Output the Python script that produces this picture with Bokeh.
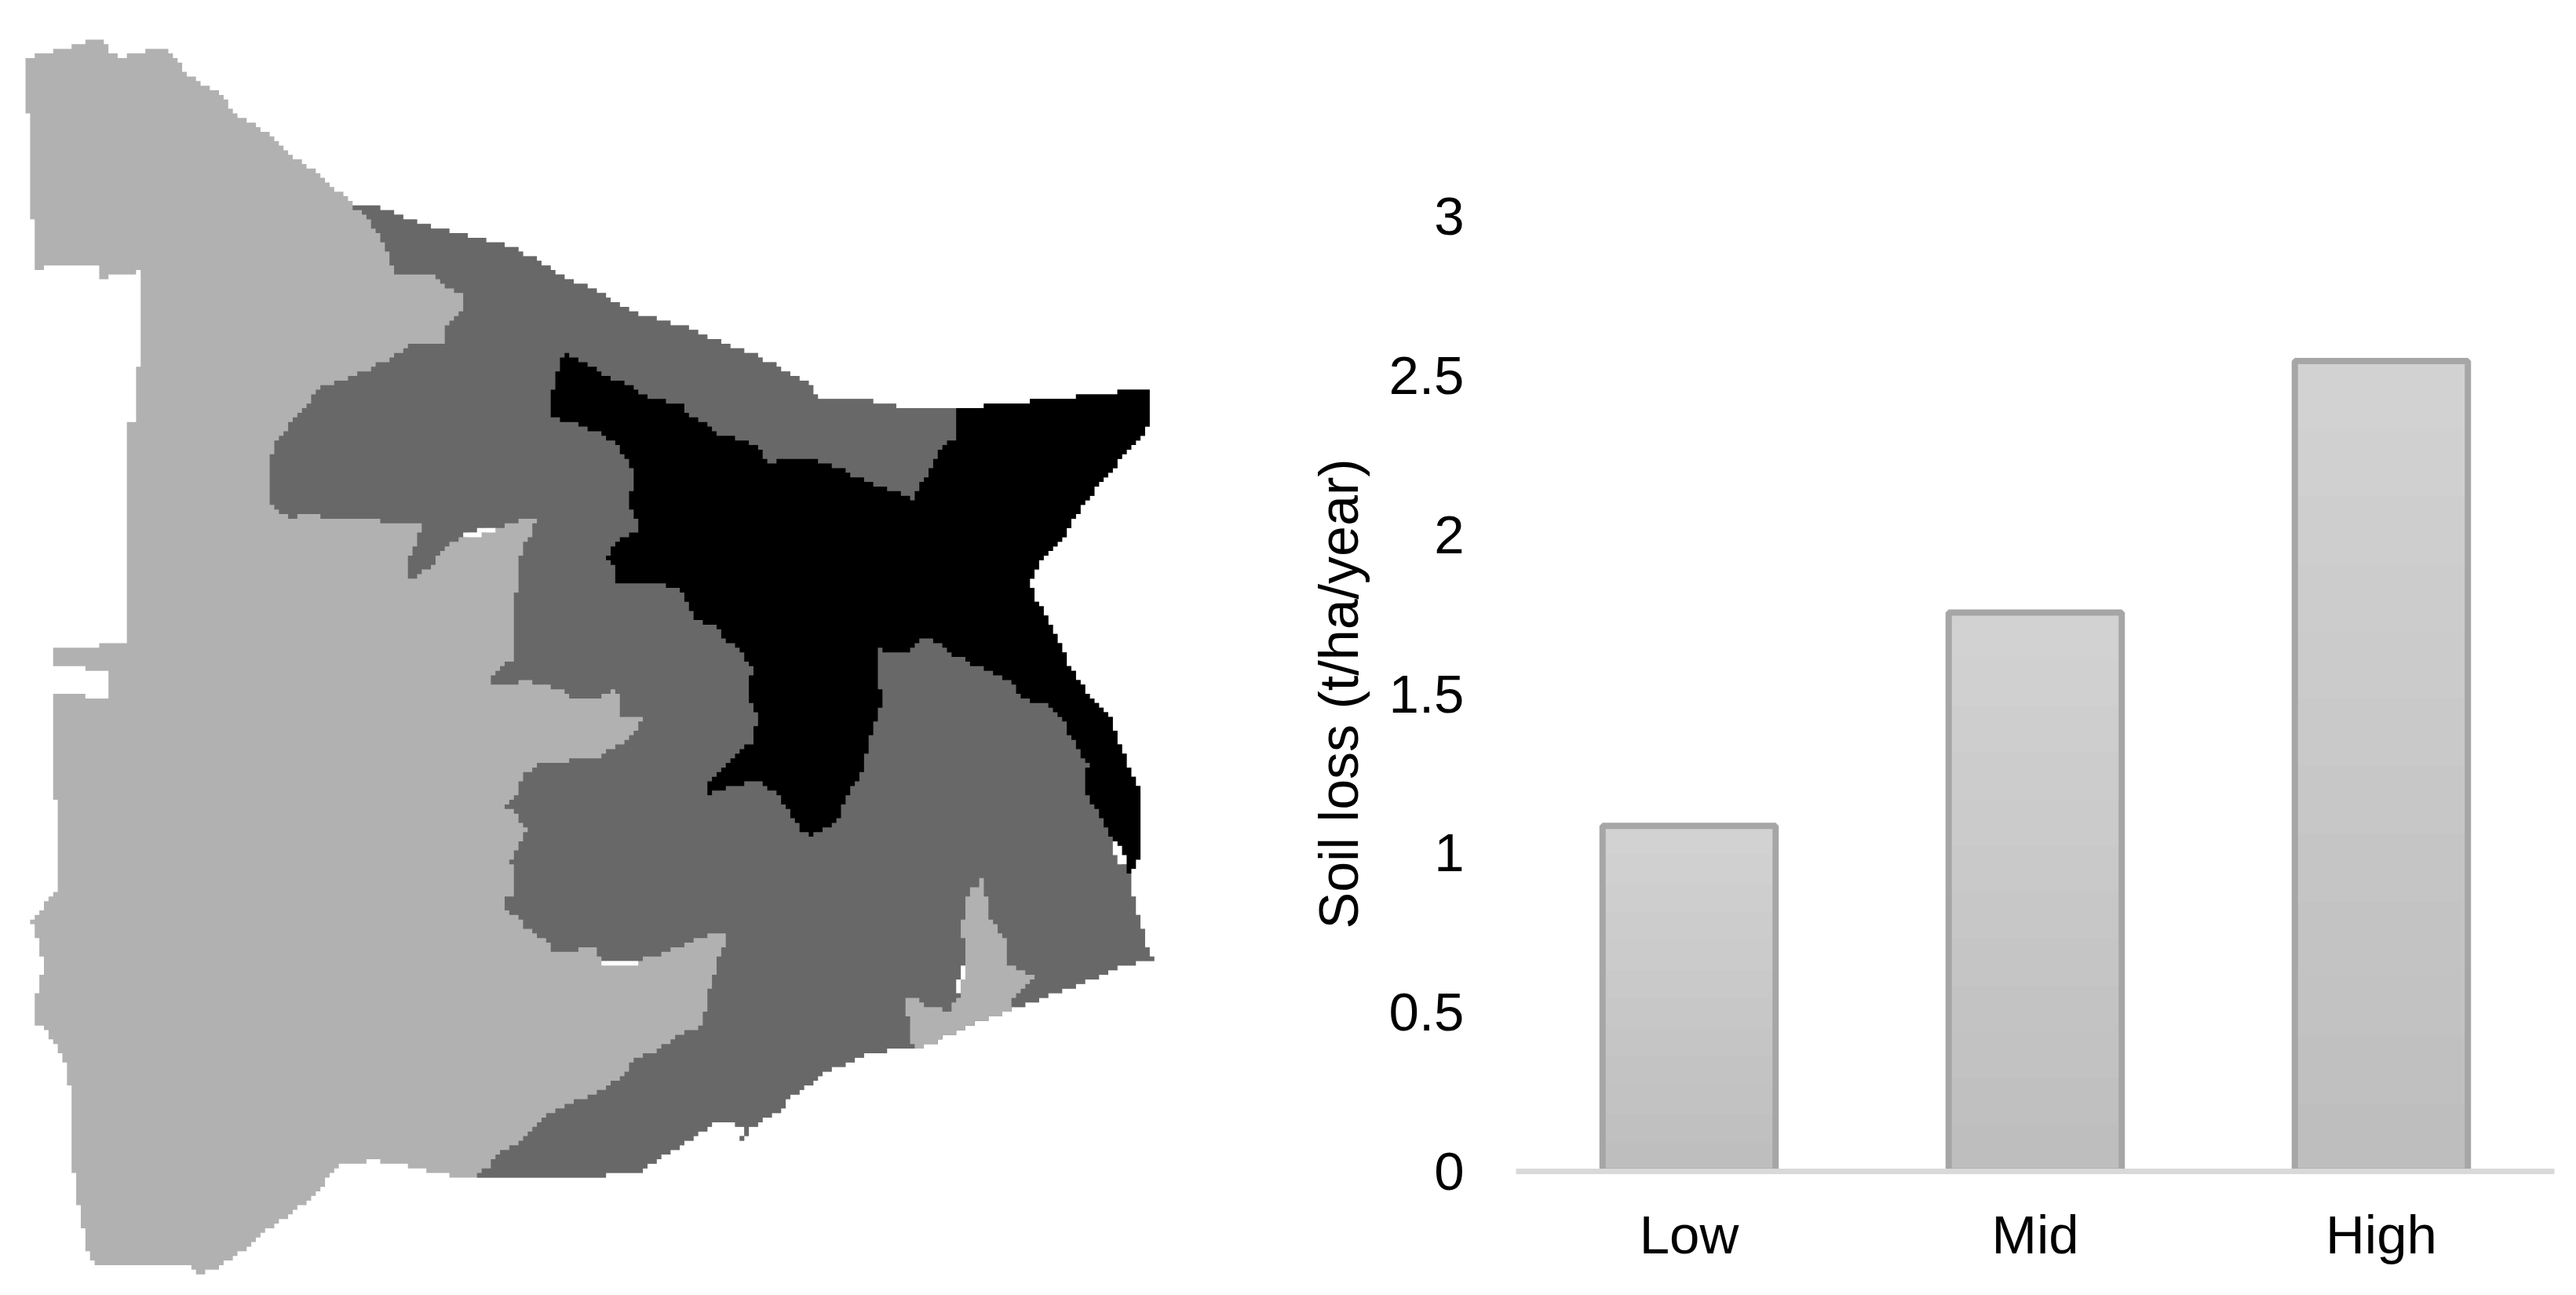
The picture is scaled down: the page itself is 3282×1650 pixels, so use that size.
from bokeh.plotting import figure
from bokeh.models import Range1d, FactorRange, FixedTicker
from bokeh.embed import file_html
from bokeh.resources import INLINE

# ---- bar chart values ----
categories = ["Low", "Mid", "High"]
soil_loss = [1.085, 1.755, 2.545]
y_ticks = [0, 0.5, 1, 1.5, 2, 2.5, 3]
y_tick_labels = ["0", "0.5", "1", "1.5", "2", "2.5", "3"]
y_title = "Soil loss (t/ha/year)"

# ---- map region outlines (map units) ----
outline_top = [(32,74),(49,67),(73,62),(94,55),(117,50),(135,55),(140,67),(153,74),(164,67),(194,62),(206,62),(219,74),
    (237,96),(250,103),(265,116),(280,121),(304,150),(321,154),(344,171),(362,189),(383,208),(400,218),(418,237),(436,247),(449,259)]
outline_upper_right = [(472,259),(489,266),(520,277),(556,289),(610,304),(651,316),(684,333),(719,353),(755,368),(790,392),
    (816,400),(863,416),(904,434),(953,450),(991,466),(1027,489),(1044,507),(1097,507),(1153,518),(1218,519)]
outline_black_side = [(1274,513),(1333,507),(1391,502),(1448,496),(1465,496),(1465,531),(1460,554),(1437,576),(1418,599),
    (1402,622),(1373,658),(1351,687),(1328,716),(1310,741),(1315,758),(1328,784),(1345,813),(1357,842),(1368,866),(1386,889),
    (1417,918),(1424,945),(1437,971),(1447,1000),(1454,1000),(1454,1084),(1447,1108),(1440,1113)]
outline_lower_right = [(1438,1115),(1443,1132),(1448,1157),(1454,1174),(1460,1195),(1466,1219),(1472,1224),(1436,1230),
    (1392,1249),(1345,1267),(1298,1284),(1255,1300),(1213,1319),(1188,1332),(1159,1335),(1106,1340),(1086,1352),(1054,1365),
    (1037,1381),(1014,1394),(996,1415),(979,1425),(956,1439),(946,1452),(941,1458),(941,1448),(946,1446),(946,1434),(934,1428),
    (916,1428),(905,1435),(887,1446),(869,1458),(851,1470),(833,1481),(817,1495),(773,1496),(770,1501),(605,1501)]
outline_rest = [(587,1501),(561,1495),(538,1489),(515,1483),(500,1482),(477,1476),(459,1482),(441,1484),(423,1489),(412,1512),
    (395,1530),(378,1541),(357,1559),(337,1572),(311,1591),(291,1604),(281,1620),(255,1625),(244,1614),(122,1613),(117,1601),
    (111,1583),(105,1549),(99,1525),(93,1463),(88,1399),(82,1363),(77,1340),(66,1325),(55,1309),(43,1301),(43,1278),(49,1254),
    (55,1230),(49,1207),(43,1183),(38,1172),(49,1157),(61,1139),(73,1133),(73,1017),(67,1017),(67,886),(106,886),(106,891),
    (135,891),(135,855),(111,855),(111,849),(67,849),(67,825),(123,825),(123,820),(164,820),(164,537),(170,537),(170,466),
    (176,466),(176,345),(170,350),(140,350),(140,357),(123,357),(123,339),(55,339),(55,345),(43,345),(43,276),(38,276),(38,144),(32,144)]

dark_light_border = [(605,1495),(622,1484),(633,1472),(658,1453),(684,1431),(696,1418),(735,1403),(765,1387),(800,1361),(809,1350),(827,1340),(845,1330),
    (862,1319),(894,1307),(899,1273),(905,1249),(912,1230),(917,1207),(923,1205),(923,1189),(912,1189),(894,1195),(865,1207),
    (835,1219),(811,1226),(765,1225),(760,1207),(737,1207),(735,1212),(708,1212),(694,1196),(673,1180),(663,1164),(645,1157),
    (645,1144),(657,1135),(652,1130),(652,1099),(645,1099),(658,1080),(666,1062),(671,1058),(663,1038),(645,1025),(658,1007),
    (666,983),(689,972),(754,968),(779,955),(797,945),(805,929),(816,913),(791,911),(791,887),(784,879),(766,889),(738,889),
    (713,878),(694,872),(666,867),(658,873),(622,873),(622,862),(638,849),(652,836),(652,789),(658,711),(666,695),(679,674),
    (684,658),(672,658),(638,674),(610,679),(575,687),(559,705),(546,724),(528,734),(521,739),(521,705),(528,703),(533,684),
    (539,664),(528,664),(528,669),(495,669),(482,658),(464,658),(441,663),(423,658),(395,652),(372,658),(357,647),(344,639),
    (344,589),(351,561),(362,550),(370,532),(383,518),(400,497),(407,489),(431,484),(459,474),(482,461),(510,450),(521,439),
    (564,437),(569,416),(575,405),(592,392),(592,375),(580,368),(569,361),(556,352),(500,350),(495,326),(488,316),(482,300),
    (472,279),(459,266)]

black_upper_edge = [(720,448),(726,455),(754,468),(779,482),(802,492),(822,508),(863,513),(876,529),(894,539),(912,554),(945,561),
    (968,574),(980,588),(996,584),(1032,584),(1067,597),(1098,611),(1136,624),(1162,639),(1169,616),(1182,600),(1194,574),(1218,554),(1218,519)]
black_lower_edge = [(1432,1108),(1424,1079),(1412,1053),(1396,1024),(1381,1005),(1381,982),(1386,974),(1373,947),(1351,913),(1338,894),
    (1302,892),(1292,874),(1279,862),(1246,847),(1213,832),(1187,816),(1177,816),(1159,832),(1136,832),(1117,826),(1117,879),
    (1123,879),(1123,894),(1117,911),(1112,929),(1107,947),(1103,976),(1097,995),(1080,1005),(1073,1034),(1066,1050),(1049,1061),
    (1034,1068),(1021,1055),(1009,1032),(991,1005),(963,995),(940,1000),(917,1005),(899,1011),(899,1000),(906,989),(917,976),
    (945,947),(960,945),(960,932),(966,916),(960,897),(953,889),(953,866),(958,855),(945,832),(937,820),(924,813),(912,797),
    (881,789),(876,768),(863,750),(840,742),(802,741),(784,742),(784,724),(779,711),(772,708),(784,692),(810,671),(810,658),
    (802,645),(802,624),(808,621),(808,597),(796,579),(784,558),(761,547),(731,536),(700,531),(702,503),(708,487),(713,461)]

island = [(1248,1116),(1253,1116),(1256,1174),(1268,1180),(1274,1195),(1280,1195),(1280,1230),(1298,1237),(1316,1249),(1304,1259),
    (1287,1278),(1291,1290),(1255,1300),(1213,1319),(1188,1332),(1171,1334),(1159,1323),(1159,1294),(1153,1294),(1153,1271),
    (1164,1271),(1177,1284),(1195,1284),(1206,1294),(1213,1284),(1222,1261),(1229,1232),(1229,1195),(1224,1190),(1229,1151),
    (1235,1132),(1248,1126)]

slivers = [
    [(592,684),(628,678),(628,672),(592,678)],
    [(766,1225),(812,1225),(812,1231),(766,1231)],
    [(1418,1074),(1424,1074),(1432,1103),(1426,1103)],
    [(1222,1232),(1229,1232),(1222,1265),(1216,1265)],
]

LIGHT, DARK, BLACK = "#B1B1B1", "#686868", "#000000"
CELL = 5.87
X0, Y0 = 32.0, 50.0


def raster_edge(points):
    """Turn an outline into the stair-stepped edge of the raster map."""
    cells = [(round((x - X0) / CELL), round((y - Y0) / CELL)) for x, y in points]
    out = [cells[0]]
    for (a, b), (c, d) in zip(cells, cells[1:] + cells[:1]):
        n = max(abs(c - a), abs(d - b))
        px, py = a, b
        for i in range(1, n + 1):
            qx = a + round((c - a) * i / n)
            qy = b + round((d - b) * i / n)
            if qx != px:
                out.append((qx, py))
            if qy != py:
                out.append((qx, qy))
            px, py = qx, qy
    return [X0 + u * CELL for u, _ in out], [Y0 + v * CELL for _, v in out]


# ---- map panel ----
m = figure(width=1640, height=1640, output_backend="svg", toolbar_location=None,
           x_range=Range1d(0, 1640), y_range=Range1d(1640, 0),
           min_border=0, min_border_left=0, min_border_right=0, min_border_top=0, min_border_bottom=0)
m.axis.visible = False
m.grid.visible = False
m.outline_line_color = None
m.styles = {"position": "absolute", "left": "0px", "top": "0px"}

whole = outline_top + outline_upper_right + outline_black_side + outline_lower_right + outline_rest
dark = outline_top[-1:] + outline_upper_right + outline_black_side + outline_lower_right + dark_light_border
black = black_upper_edge + outline_black_side + black_lower_edge

for pts, col in [(whole, LIGHT), (dark, DARK), (black, BLACK), (island, LIGHT)]:
    xs, ys = raster_edge(pts)
    m.patch(xs, ys, fill_color=col, line_color=None)
for pts in slivers:
    xs, ys = raster_edge(pts)
    m.patch(xs, ys, fill_color="#FFFFFF", line_color=None)

# ---- bar panel ----
p = figure(width=1640, height=1640, output_backend="svg", toolbar_location=None,
           x_range=FactorRange(factors=categories, range_padding=0),
           y_range=Range1d(0, 3),
           min_border_left=291, min_border_right=26, min_border_top=275, min_border_bottom=148)
p.grid.visible = False
p.outline_line_color = None
p.styles = {"position": "absolute", "left": "1640px", "top": "0px"}

shades = ["#D2D2D2", "#D0D0D0", "#CECECE", "#CCCCCC", "#CBCBCB", "#C9C9C9",
          "#C7C7C7", "#C5C5C5", "#C3C3C3", "#C2C2C2", "#C0C0C0", "#BEBEBE"]
for i, shade in enumerate(shades):
    frac = 1 - i / len(shades)
    p.vbar(x=categories, top=[v * frac for v in soil_loss], width=0.5,
           fill_color=shade, line_color=None)
p.vbar(x=categories, top=soil_loss, width=0.5, fill_color=None,
       line_color="#A6A6A6", line_width=8)

FONT = "Liberation Sans"
FS = "69px"
xa = p.xaxis[0]
xa.axis_line_color = "#D9D9D9"
xa.axis_line_width = 7
xa.major_tick_line_color = None
xa.minor_tick_line_color = None
xa.major_label_text_font = FONT
xa.major_label_text_font_size = FS
xa.major_label_text_color = "#000000"
xa.major_label_standoff = 36

ya = p.yaxis[0]
ya.ticker = FixedTicker(ticks=y_ticks)
ya.major_label_overrides = {t: s for t, s in zip(y_ticks, y_tick_labels)}
ya.axis_line_color = None
ya.major_tick_line_color = None
ya.minor_tick_line_color = None
ya.major_label_text_font = FONT
ya.major_label_text_font_size = FS
ya.major_label_text_color = "#000000"
ya.major_label_standoff = 60
ya.axis_label = y_title
ya.axis_label_text_font = FONT
ya.axis_label_text_font_size = "70px"
ya.axis_label_text_font_style = "normal"
ya.axis_label_text_color = "#000000"
ya.axis_label_standoff = 22

open("out.html", "w").write(file_html([m, p], INLINE))
